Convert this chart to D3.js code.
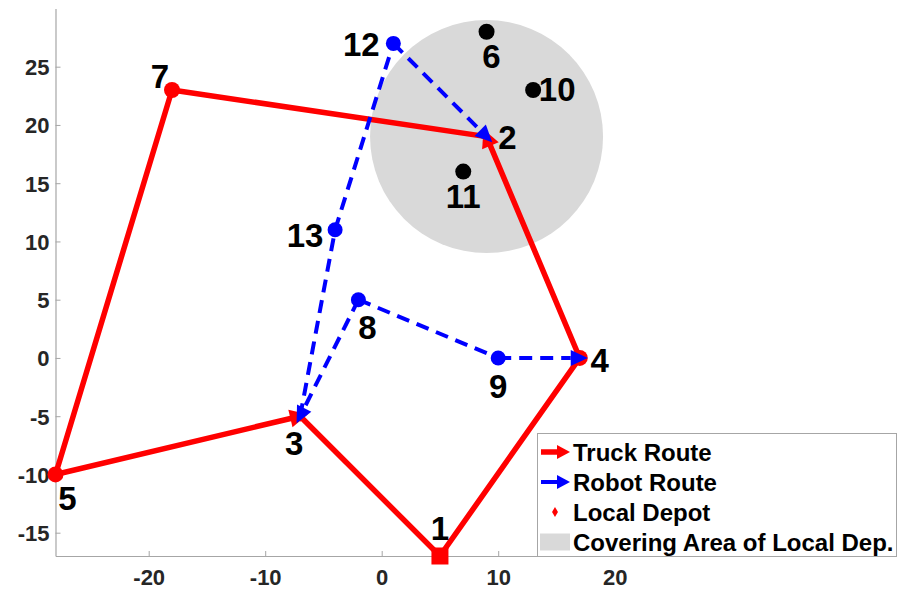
<!DOCTYPE html>
<html>
<head>
<meta charset="utf-8">
<script src="https://cdn.jsdelivr.net/npm/d3@7"></script>
<style>
  body { margin: 0; background: #fff; }
  text { font-family: "Liberation Sans", Arial, Helvetica, sans-serif; font-weight: bold; }
</style>
</head>
<body>
<svg id="chart" width="899" height="597"></svg>
<script>
// Node coordinates (node id = index + 1)
const nodeIds = [1, 2, 3, 4, 5, 6, 7, 8, 9, 10, 11, 12, 13];
const nodeX   = [5, 9, -7, 17, -28, 9, -18, -2, 10, 13, 7, 1, -4];
const nodeY   = [-17, 19, -5, 0, -10, 28, 23, 5, 0, 23, 16, 27, 11];

// Truck tour and the legs that carry a visible arrow head
const truckRoute = [1, 4, 2, 7, 5, 3, 1];
const truckArrowLegs = [[4, 2], [5, 3]];

// Robot legs (from, to) and the ones with a visible arrow head
const robotLegs = [[3, 13], [13, 12], [12, 2], [8, 3], [8, 9], [9, 4]];
const robotArrowLegs = [[12, 2], [8, 3], [9, 4]];

// Node roles
const depotNode = 1;
const truckStops = [4, 5, 7];
const robotStops = [8, 9, 12, 13];
const customerNodes = [6, 10, 11];
const localDepots = [2, 3];

// Covering area of the local depot
const coverNode = 2;
const coverRadius = 10;

// Axis ticks
const xTicks = [-20, -10, 0, 10, 20];
const yTicks = [-15, -10, -5, 0, 5, 10, 15, 20, 25];

// Legend entries
const legendLabels = ["Truck Route", "Robot Route", "Local Depot", "Covering Area of Local Dep."];

// ---------- drawing ----------
const svg = d3.select("#chart");

const UNIT = 11.65; // equal aspect: same pixels per unit on both axes
const x = d3.scaleLinear().domain([-28, 29]).range([55.5, 55.5 + 57 * UNIT]);
const y = d3.scaleLinear().domain([-17, 30]).range([556, 556 - 47 * UNIT]);

const node = id => ({ id, x: nodeX[id - 1], y: nodeY[id - 1] });
const px = id => [x(nodeX[id - 1]), y(nodeY[id - 1])];

const RED = "#ff0000", BLUE = "#0000ff", GREY_FILL = "#d9d9d9", AXIS = "#a6a6a6";
const fmt = d => String(d); // plain hyphen for negatives

// Covering area
const c = node(coverNode);
svg.append("ellipse")
  .attr("cx", x(c.x)).attr("cy", y(c.y))
  .attr("rx", x(c.x + coverRadius) - x(c.x))
  .attr("ry", y(c.y) - y(c.y + coverRadius))
  .attr("fill", GREY_FILL);

// Axes (left and bottom only, ticks pointing inward)
const gx = svg.append("g").attr("transform", `translate(0,${y(-17)})`)
  .call(d3.axisBottom(x).tickValues(xTicks).tickSizeInner(-5).tickSizeOuter(0).tickPadding(13)
        .tickFormat(fmt));
const gy = svg.append("g").attr("transform", `translate(${x(-28)},0)`)
  .call(d3.axisLeft(y).tickValues(yTicks).tickSizeInner(-5).tickSizeOuter(0).tickPadding(6)
        .tickFormat(fmt));
[gx, gy].forEach(g => {
  g.select(".domain").attr("stroke", AXIS).attr("stroke-width", 1.2);
  g.selectAll(".tick line").attr("stroke", AXIS).attr("stroke-width", 1);
  g.selectAll(".tick text").attr("fill", "#262626").style("font-size", "22px")
    .style("font-family", "'Liberation Sans', Arial, sans-serif").style("font-weight", "bold");
});
gy.selectAll(".tick text").attr("dy", "0.36em");
gx.selectAll(".tick text").attr("dy", "0.72em");

// arrow head polygon: tip slightly past the end point
function arrowHead(from, to, len, half, over) {
  const dx = to[0] - from[0], dy = to[1] - from[1];
  const L = Math.hypot(dx, dy), ux = dx / L, uy = dy / L;
  const tip = [to[0] + ux * over, to[1] + uy * over];
  const base = [tip[0] - ux * len, tip[1] - uy * len];
  return {
    pts: [tip, [base[0] - uy * half, base[1] + ux * half], [base[0] + uy * half, base[1] - ux * half]],
    base
  };
}

// Truck route
svg.append("path")
  .attr("d", d3.line()(truckRoute.map(px)))
  .attr("fill", "none").attr("stroke", RED).attr("stroke-width", 5.5)
  .attr("stroke-linejoin", "round");

svg.selectAll(".truckhead").data(truckArrowLegs).join("polygon")
  .attr("points", d => arrowHead(px(d[0]), px(d[1]), 18, 9, 8).pts.join(" "))
  .attr("fill", RED);

svg.selectAll(".ldep").data(localDepots).join("path")
  .attr("transform", d => `translate(${px(d)})`)
  .attr("d", d3.symbol(d3.symbolDiamond, 40)())
  .attr("fill", RED);

// Truck stops and depot
svg.selectAll(".tstop").data(truckStops).join("circle")
  .attr("cx", d => px(d)[0]).attr("cy", d => px(d)[1]).attr("r", 8).attr("fill", RED);
svg.append("rect")
  .attr("x", px(depotNode)[0] - 8.5).attr("y", px(depotNode)[1] - 8.5)
  .attr("width", 17).attr("height", 17).attr("fill", RED);

// Robot legs (dashed)
const robotHeadSet = new Set(robotArrowLegs.map(d => d.join("-")));
svg.selectAll(".rleg").data(robotLegs).join("path")
  .attr("d", d => {
    const a = px(d[0]), b = px(d[1]);
    const end = robotHeadSet.has(d.join("-")) ? arrowHead(a, b, 17, 8, 8).base : b;
    return d3.line()([a, end]);
  })
  .attr("fill", "none").attr("stroke", BLUE).attr("stroke-width", 4)
  .attr("stroke-dasharray", "13,8");

svg.selectAll(".rstop").data(robotStops).join("circle")
  .attr("cx", d => px(d)[0]).attr("cy", d => px(d)[1]).attr("r", 7.5).attr("fill", BLUE);

svg.selectAll(".rhead").data(robotArrowLegs).join("polygon")
  .attr("points", d => arrowHead(px(d[0]), px(d[1]), 17, 8, 8).pts.join(" "))
  .attr("fill", BLUE);

// Customers inside the covering area
svg.selectAll(".cust").data(customerNodes).join("circle")
  .attr("cx", d => px(d)[0]).attr("cy", d => px(d)[1]).attr("r", 8).attr("fill", "#000");

// Node labels (pixel offsets from each node)
const labelOffset = {
  1: [0, -28], 2: [21, 1], 3: [-6, 27], 4: [20, 2], 5: [12, 24], 6: [5, 24], 7: [-12, -14],
  8: [9, 27], 9: [0, 28], 10: [24, -1], 11: [0, 25], 12: [-32, 1], 13: [-30, 5]
};
svg.selectAll(".nlabel").data(nodeIds).join("text")
  .attr("x", d => px(d)[0] + labelOffset[d][0])
  .attr("y", d => px(d)[1] + labelOffset[d][1])
  .attr("text-anchor", "middle").attr("dy", "0.36em")
  .style("font-size", "33px").attr("fill", "#000")
  .text(d => d);

// Legend
const lg = svg.append("g");
lg.append("rect").attr("x", 537.5).attr("y", 433.5).attr("width", 359).attr("height", 123)
  .attr("fill", "#fff").attr("stroke", "#a6a6a6").attr("stroke-width", 1);
const rowY = i => 452 + i * 30;
lg.selectAll(".ltext").data(legendLabels).join("text")
  .attr("x", 573).attr("y", (d, i) => rowY(i)).attr("dy", "0.36em")
  .style("font-size", "24px").attr("fill", "#000").text(d => d);
// truck icon
lg.append("line").attr("x1", 541).attr("x2", 560).attr("y1", rowY(0)).attr("y2", rowY(0))
  .attr("stroke", RED).attr("stroke-width", 5.5);
lg.append("polygon").attr("points", arrowHead([541, rowY(0)], [562, rowY(0)], 13, 7, 8).pts.join(" "))
  .attr("fill", RED);
// robot icon
lg.append("line").attr("x1", 541).attr("x2", 560).attr("y1", rowY(1)).attr("y2", rowY(1))
  .attr("stroke", BLUE).attr("stroke-width", 4);
lg.append("polygon").attr("points", arrowHead([541, rowY(1)], [562, rowY(1)], 13, 7, 8).pts.join(" "))
  .attr("fill", BLUE);
// local depot icon
lg.append("path").attr("transform", `translate(555,${rowY(2)})`)
  .attr("d", d3.symbol(d3.symbolDiamond, 30)()).attr("fill", RED);
// covering area icon
lg.append("rect").attr("x", 540).attr("y", rowY(3) - 8.5).attr("width", 30).attr("height", 17)
  .attr("fill", GREY_FILL);
</script>
</body>
</html>
